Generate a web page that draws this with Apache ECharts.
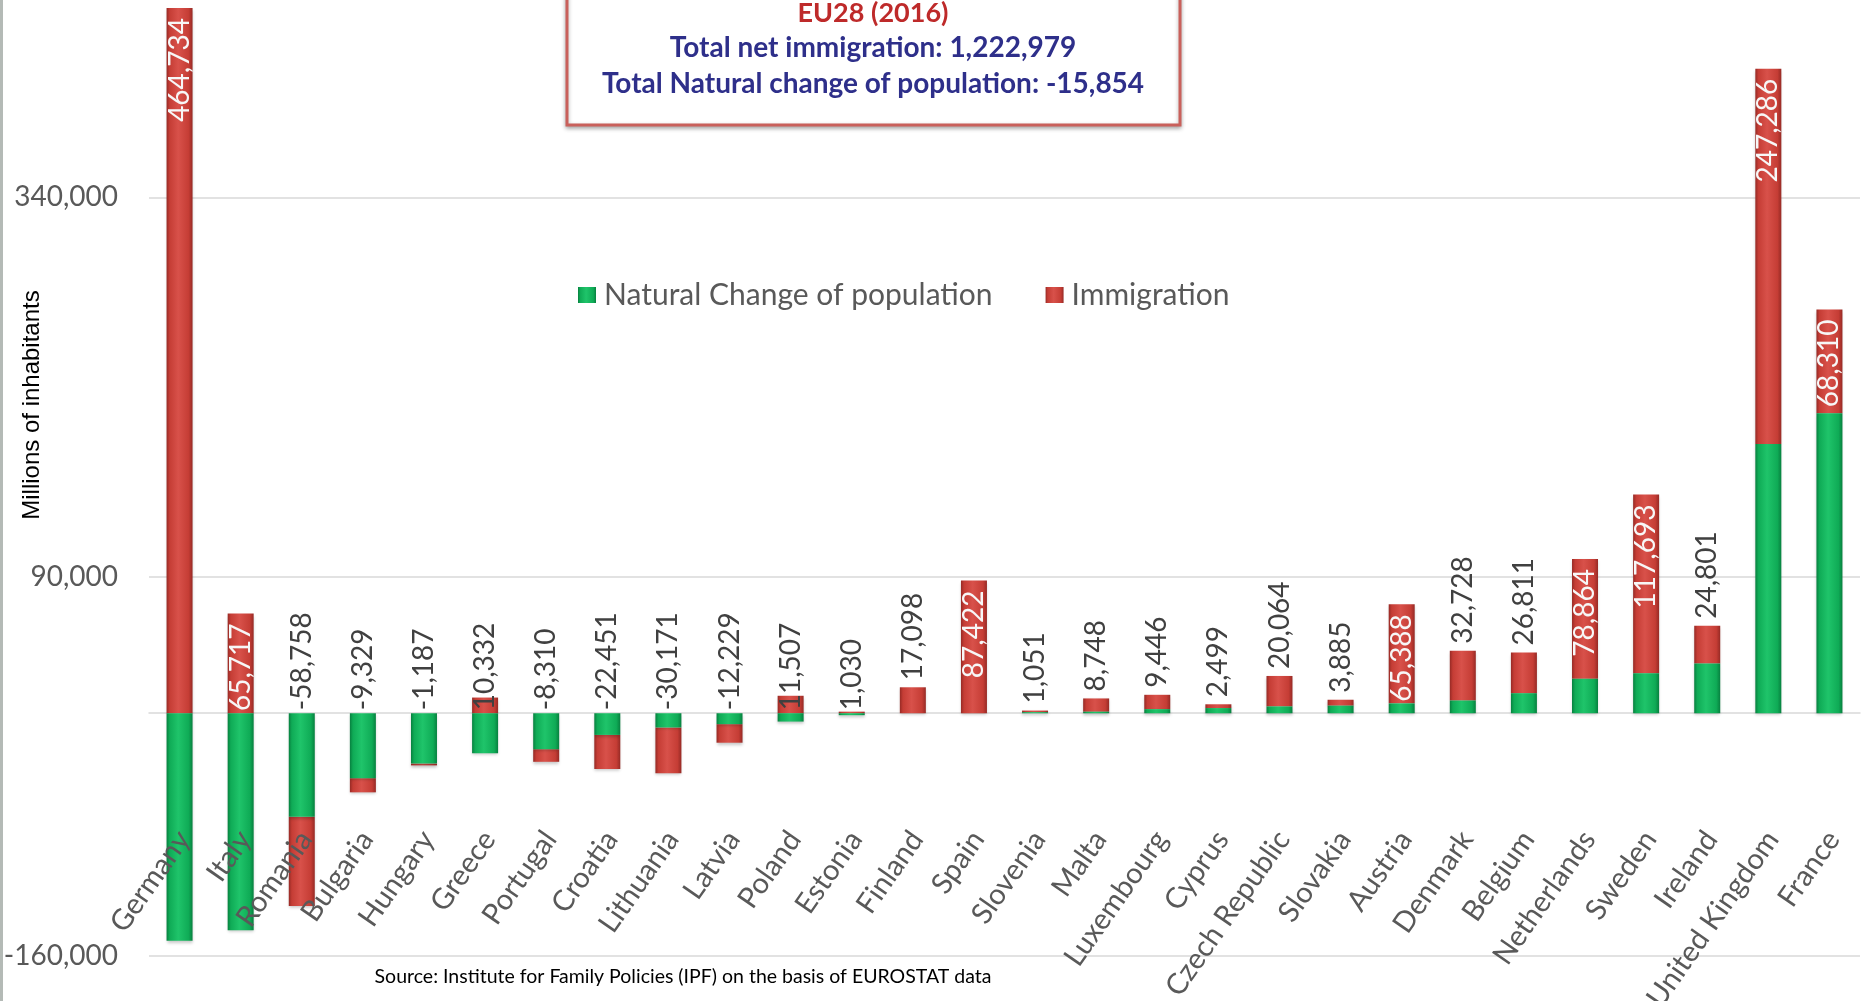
<!DOCTYPE html>
<html>
<head>
<meta charset="utf-8">
<title>EU28 (2016) natural change and immigration</title>
<script src="https://cdn.jsdelivr.net/npm/echarts@6/dist/echarts.min.js"></script>
<style>
  html, body { margin: 0; padding: 0; background: #fff; }
  #main { width: 1872px; height: 1001px; }
</style>
</head>
<body>
<div id="main"></div>
<script>
// countries, in the order of the chart
var categories = ['Germany', 'Italy', 'Romania', 'Bulgaria', 'Hungary', 'Greece', 'Portugal', 'Croatia',
  'Lithuania', 'Latvia', 'Poland', 'Estonia', 'Finland', 'Spain', 'Slovenia', 'Malta', 'Luxembourg',
  'Cyprus', 'Czech Republic', 'Slovakia', 'Austria', 'Denmark', 'Belgium', 'Netherlands', 'Sweden',
  'Ireland', 'United Kingdom', 'France'];

// natural change of population
var naturalChange = [-150000, -143000, -68300, -42800, -33200, -26300, -23700, -14300,
  -9400, -7200, -5500, -1300, 0, 0, 700, 1000, 2700,
  3400, 4500, 5000, 6500, 8400, 13200, 22700, 26400,
  32800, 177500, 197700];

// net immigration (the printed labels)
var immigration = [464734, 65717, -58758, -9329, -1187, 10332, -8310, -22451,
  -30171, -12229, 11507, 1030, 17098, 87422, 1051, 8748, 9446,
  2499, 20064, 3885, 65388, 32728, 26811, 78864, 117693,
  24801, 247286, 68310];

// value axis
var yMin = -160000;
var yMax = 590000;
var yStep = 250000;

var titleLines = ['EU28 (2016)', 'Total net immigration: 1,222,979', 'Total Natural change of population: -15,854'];
var seriesNames = ['Natural Change of population', 'Immigration'];
var sourceText = 'Source: Institute for Family Policies (IPF) on the basis of EUROSTAT data';

var font = 'Lato, "Open Sans", sans-serif';

function fmt(v) {
  return v.toLocaleString('en-US');
}

function barGradient(edge, mid, light) {
  return {
    type: 'linear', x: 0, y: 0, x2: 1, y2: 0,
    colorStops: [
      { offset: 0, color: edge },
      { offset: 0.12, color: mid },
      { offset: 0.45, color: light },
      { offset: 0.85, color: mid },
      { offset: 1, color: edge }
    ]
  };
}

var greenFill = barGradient('#07803f', '#0fab56', '#1fc46a');
var redFill = barGradient('#962a25', '#c53d35', '#d8514a');

// big immigration values get their label inside the bar
var insideMin = 50000;

var outsideLabel = {
  show: true,
  rotate: 90,
  align: 'left',
  verticalAlign: 'middle',
  color: '#404040'
};

var greenData = naturalChange.map(function (v, i) {
  var m = immigration[i];
  var item = { value: v };
  if (v < 0 && m <= insideMin) {
    // label sits on the zero line, above the negative green bar
    item.label = Object.assign({ position: 'top', distance: 3, formatter: fmt(m) }, outsideLabel);
  }
  return item;
});

var redData = immigration.map(function (m, i) {
  var item = { value: m };
  if (m > insideMin) {
    item.label = {
      show: true, position: 'insideTop', distance: 10, rotate: 90,
      align: 'right', verticalAlign: 'middle', color: '#f7f7f7', formatter: fmt(m)
    };
  } else if (naturalChange[i] >= 0) {
    item.label = Object.assign({ position: 'top', distance: 7, formatter: fmt(m) }, outsideLabel);
  }
  return item;
});

var myChart = echarts.init(document.getElementById('main'));

var option = {
  animation: false,
  backgroundColor: '#ffffff',
  textStyle: { fontFamily: font },
  legend: {
    data: seriesNames,
    left: 573,
    top: 275,
    icon: 'rect',
    itemWidth: 18,
    itemHeight: 16,
    itemGap: 53,
    textStyle: { fontSize: 30, color: '#595959', fontFamily: font, padding: [0, 0, 0, 3] }
  },
  grid: [
    { left: 149, right: 12, top: -182, bottom: 45, outerBoundsMode: 'none' },
    // only carries the slanted country names
    { left: 153, right: 8, top: 100, bottom: 167, outerBoundsMode: 'none' }
  ],
  xAxis: [{
    type: 'category',
    gridIndex: 0,
    data: categories,
    axisLine: { onZero: true, lineStyle: { color: '#d9d9d9', width: 1.5 } },
    axisTick: { show: false },
    axisLabel: { show: false }
  }, {
    type: 'category',
    gridIndex: 1,
    data: categories,
    z: 10,
    axisLine: { show: false, onZero: false },
    axisTick: { show: false },
    axisLabel: {
      interval: 0,
      rotate: 55,
      margin: 0,
      fontSize: 29,
      color: '#595959',
      fontFamily: font
    }
  }],
  yAxis: [{
    type: 'value',
    gridIndex: 0,
    min: yMin,
    max: yMax,
    interval: yStep,
    axisLine: { show: false },
    axisTick: { show: false },
    axisLabel: { fontSize: 28, color: '#595959', margin: 31, fontFamily: font },
    splitLine: { lineStyle: { color: '#d9d9d9', width: 1.5 } }
  }, {
    type: 'value',
    gridIndex: 1,
    min: 0,
    max: 1,
    show: false
  }],
  series: [{
    name: seriesNames[0],
    type: 'bar',
    stack: 'total',
    barWidth: 26,
    z: 3,
    itemStyle: {
      color: greenFill,
      shadowBlur: 3,
      shadowOffsetY: 2,
      shadowColor: 'rgba(0,0,0,0.22)'
    },
    label: { show: false, fontSize: 28, fontFamily: font },
    data: greenData
  }, {
    name: seriesNames[1],
    type: 'bar',
    stack: 'total',
    barWidth: 26,
    z: 2,
    itemStyle: {
      color: redFill,
      shadowBlur: 3,
      shadowOffsetY: 2,
      shadowColor: 'rgba(0,0,0,0.22)'
    },
    label: { show: false, fontSize: 28, fontFamily: font },
    data: redData
  }],
  graphic: [
    {
      type: 'line',
      shape: { x1: 1.5, y1: 0, x2: 1.5, y2: 1001 },
      style: { stroke: '#b4bab6', lineWidth: 3 }
    },
    {
      type: 'rect',
      shape: { x: 567, y: -12, width: 613, height: 137 },
      style: {
        fill: '#ffffff', stroke: '#c9605b', lineWidth: 3,
        shadowBlur: 4, shadowOffsetY: 2, shadowColor: 'rgba(0,0,0,0.3)'
      },
      z: 20
    },
    {
      type: 'text', x: 873, y: 13, z: 21,
      style: {
        text: titleLines[0], fill: '#be2a2a', font: 'bold 27px ' + font,
        align: 'center', verticalAlign: 'middle'
      }
    },
    {
      type: 'text', x: 873, y: 48, z: 21,
      style: {
        text: titleLines[1], fill: '#2e2f8a', font: 'bold 28px ' + font,
        align: 'center', verticalAlign: 'middle'
      }
    },
    {
      type: 'text', x: 873, y: 84, z: 21,
      style: {
        text: titleLines[2], fill: '#2e2f8a', font: 'bold 28px ' + font,
        align: 'center', verticalAlign: 'middle'
      }
    },
    {
      type: 'text', x: 32, y: 405, rotation: Math.PI / 2,
      style: {
        text: 'Millions of inhabitants', fill: '#000000',
        font: '24px "Liberation Sans", Arial, sans-serif',
        align: 'center', verticalAlign: 'middle'
      }
    },
    {
      type: 'text', x: 683, y: 977,
      style: {
        text: sourceText, fill: '#000000', font: '19.5px ' + font,
        align: 'center', verticalAlign: 'middle'
      }
    }
  ]
};

myChart.setOption(option);
</script>
</body>
</html>
